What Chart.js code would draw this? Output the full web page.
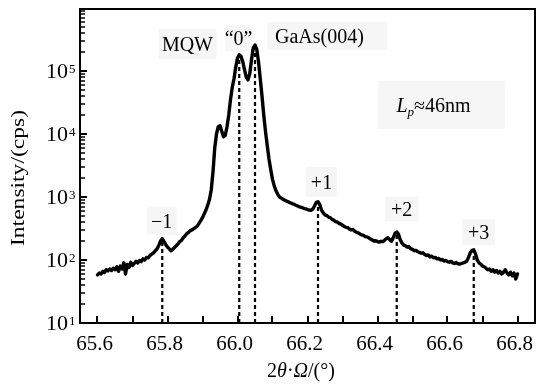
<!DOCTYPE html>
<html><head><meta charset="utf-8">
<script src="https://cdn.jsdelivr.net/npm/chart.js@4/dist/chart.umd.min.js"></script>
<style>html,body{margin:0;padding:0;background:#fff}</style>
</head><body>
<canvas id="c" width="536" height="390"></canvas>
<script>
// XRD 2θ-ω scan: [2θ (deg), intensity (cps)]
const scan = [
[65.600,58],[65.605,62],[65.610,60],[65.615,66],[65.620,63],[65.625,70],[65.630,67],[65.635,72],[65.640,68],[65.645,74],
[65.650,70],[65.655,78],[65.660,66],[65.665,80],[65.670,72],[65.675,90],[65.680,60],[65.685,85],[65.690,76],[65.695,92],
[65.700,82],[65.705,88],[65.710,95],[65.715,90],[65.720,98],[65.725,94],[65.730,104],[65.735,100],[65.740,110],[65.745,108],
[65.750,118],[65.755,124],[65.760,130],[65.765,140],[65.770,150],[65.775,170],[65.780,200],[65.785,218],[65.790,195],[65.795,175],
[65.800,160],[65.805,150],[65.810,140],[65.815,148],[65.820,158],[65.825,168],[65.830,180],[65.835,196],[65.840,205],[65.845,225],
[65.850,240],[65.855,262],[65.860,275],[65.865,292],[65.870,300],[65.875,315],[65.880,328],[65.885,345],[65.890,380],[65.895,420],
[65.900,470],[65.905,540],[65.910,620],[65.915,740],[65.920,920],[65.925,1300],[65.930,2500],[65.935,6000],[65.940,10000],[65.945,13000],
[65.950,13500],[65.955,11000],[65.960,9000],[65.965,9500],[65.970,13000],[65.975,20000],[65.980,35000],[65.985,55000],[65.990,75000],[65.995,115000],
[66.000,160000],[66.005,180000],[66.010,170000],[66.015,140000],[66.020,105000],[66.025,80000],[66.030,72000],[66.035,90000],[66.040,150000],[66.045,230000],
[66.050,258000],[66.055,220000],[66.060,140000],[66.065,75000],[66.070,40000],[66.075,20000],[66.080,11000],[66.085,6500],[66.090,4000],[66.095,2700],
[66.100,1900],[66.105,1500],[66.110,1250],[66.115,1100],[66.120,1000],[66.125,960],[66.130,920],[66.135,890],[66.140,860],[66.145,840],
[66.150,810],[66.155,790],[66.160,770],[66.165,745],[66.170,725],[66.175,705],[66.180,690],[66.185,675],[66.190,660],[66.195,648],
[66.200,632],[66.205,620],[66.210,612],[66.215,640],[66.220,720],[66.225,820],[66.230,840],[66.235,760],[66.240,620],[66.245,560],
[66.250,520],[66.255,505],[66.260,480],[66.265,470],[66.270,440],[66.275,430],[66.280,405],[66.285,400],[66.290,380],[66.295,370],
[66.300,355],[66.305,340],[66.310,330],[66.315,325],[66.320,310],[66.325,300],[66.330,305],[66.335,285],[66.340,275],[66.345,270],
[66.350,258],[66.355,250],[66.360,245],[66.365,235],[66.370,232],[66.375,225],[66.380,215],[66.385,208],[66.390,200],[66.395,202],
[66.400,196],[66.405,192],[66.410,198],[66.415,195],[66.420,205],[66.425,218],[66.430,225],[66.435,210],[66.440,198],[66.445,225],
[66.450,265],[66.455,278],[66.460,255],[66.465,210],[66.470,185],[66.475,172],[66.480,168],[66.485,160],[66.490,162],[66.495,150],
[66.500,148],[66.505,140],[66.510,142],[66.515,135],[66.520,132],[66.525,128],[66.530,130],[66.535,122],[66.540,118],[66.545,120],
[66.550,112],[66.555,115],[66.560,108],[66.565,110],[66.570,104],[66.575,106],[66.580,100],[66.585,102],[66.590,96],[66.595,98],
[66.600,94],[66.605,92],[66.610,95],[66.615,90],[66.620,88],[66.625,91],[66.630,87],[66.635,86],[66.640,88],[66.645,90],
[66.650,92],[66.655,96],[66.660,110],[66.665,130],[66.670,142],[66.675,145],[66.680,125],[66.685,100],[66.690,90],[66.695,86],
[66.700,80],[66.705,78],[66.710,74],[66.715,70],[66.720,72],[66.725,66],[66.730,70],[66.735,64],[66.740,68],[66.745,62],
[66.750,66],[66.755,60],[66.760,64],[66.765,70],[66.770,62],[66.775,58],[66.780,64],[66.785,56],[66.790,62],[66.795,50],
[66.800,60]
];
// satellite / substrate peak markers (dashed drop lines)
const peakPositions = [65.785, 66.005, 66.050, 66.230, 66.455, 66.675];
const peakTops      = [218, 180000, 258000, 840, 278, 145];
// axis ticks
const xTicks = [65.6,65.7,65.8,65.9,66.0,66.1,66.2,66.3,66.4,66.5,66.6,66.7,66.8];
const xTickLabels = ['65.6','65.8','66.0','66.2','66.4','66.6','66.8'];
const xTickLabelValues = [65.6,65.8,66.0,66.2,66.4,66.6,66.8];
const yDecadeExponents = [1,2,3,4,5];
// annotation texts anchored in data coordinates
const annotations = [
  {text:'MQW',        x:65.857, y:2.7e5,  w:58,  h:30},
  {text:'\u201c0\u201d', x:66.003, y:3.3e5, w:26, h:26},
  {text:'GaAs(004)',  x:66.234, y:3.6e5,  w:120, h:28, dx:8},
  {text:'LP',         x:66.560, y:2.9e4,  w:127, h:48, dx:8, lp:true},
  {text:'\u22121',    x:65.783, y:420,    w:30,  h:28},
  {text:'+1',         x:66.240, y:1740,   w:31,  h:30},
  {text:'+2',         x:66.469, y:646,    w:34,  h:25},
  {text:'+3',         x:66.689, y:275,    w:33,  h:26}
];

const SERIF = '"Liberation Serif","Times New Roman",serif';

const datasets = [{
  data: scan.map(p => ({x:p[0], y:p[1]})),
  borderColor:'#000', borderWidth:3.4, pointRadius:0, tension:0, fill:false, order:0,
  borderJoinStyle:'round', borderCapStyle:'round'
}];
peakPositions.forEach((px,i) => {
  datasets.push({
    data:[{x:px, y:10},{x:px, y:peakTops[i]}],
    borderColor:'#000', borderWidth:2.2, borderDash:[4,3], pointRadius:0, fill:false, order:1
  });
});

const decor = {
  id:'decor',
  beforeDatasetsDraw(chart){
    const ctx = chart.ctx, xs = chart.scales.x, ys = chart.scales.y;
    ctx.save();
    annotations.forEach(a => {
      const cx = xs.getPixelForValue(a.x), cy = ys.getPixelForValue(a.y);
      ctx.fillStyle = '#f6f6f6';
      ctx.fillRect(cx + (a.dx||0) - a.w/2, cy - a.h/2, a.w, a.h);
    });
    ctx.restore();
  },
  afterDraw(chart){
    const ctx = chart.ctx, xs = chart.scales.x, ys = chart.scales.y, ca = chart.chartArea;
    ctx.save();
    // annotations text
    ctx.fillStyle = '#000';
    annotations.forEach(a => {
      const cx = xs.getPixelForValue(a.x), cy = ys.getPixelForValue(a.y);
      if (a.lp) {
        ctx.font = 'italic 20px ' + SERIF;
        const wL = ctx.measureText('L').width;
        ctx.font = 'italic 13px ' + SERIF;
        const wp = ctx.measureText('p').width;
        ctx.font = '20px ' + SERIF;
        const wr = ctx.measureText('\u224846nm').width;
        let x0 = cx - (wL + wp + wr)/2;
        const base = cy + 7;
        ctx.textAlign = 'left'; ctx.textBaseline = 'alphabetic';
        ctx.font = 'italic 20px ' + SERIF; ctx.fillText('L', x0, base); x0 += wL;
        ctx.font = 'italic 13px ' + SERIF; ctx.fillText('p', x0, base + 4); x0 += wp;
        ctx.font = '20px ' + SERIF; ctx.fillText('\u224846nm', x0, base);
      } else {
        ctx.font = '20px ' + SERIF;
        ctx.textAlign = 'center'; ctx.textBaseline = 'alphabetic';
        ctx.fillText(a.text, cx, cy + 7);
      }
    });
    // frame
    ctx.strokeStyle = '#000'; ctx.lineWidth = 2;
    ctx.strokeRect(ca.left, ca.top, ca.right - ca.left, ca.bottom - ca.top);
    // x ticks (inward)
    ctx.lineWidth = 2;
    xTicks.forEach(v => {
      const x = Math.round(xs.getPixelForValue(v));
      ctx.beginPath(); ctx.moveTo(x, ca.bottom); ctx.lineTo(x, ca.bottom - 7); ctx.stroke();
    });
    // y ticks (inward), major + minor
    yDecadeExponents.forEach(d => {
      const y = Math.round(ys.getPixelForValue(Math.pow(10,d)));
      ctx.lineWidth = 2;
      ctx.beginPath(); ctx.moveTo(ca.left, y); ctx.lineTo(ca.left + 7, y); ctx.stroke();
      for (let k = 2; k <= 9; k++) {
        const v = k * Math.pow(10,d);
        if (v > ys.max) break;
        const ym = Math.round(ys.getPixelForValue(v));
        ctx.lineWidth = 1.5;
        ctx.beginPath(); ctx.moveTo(ca.left, ym); ctx.lineTo(ca.left + 5, ym); ctx.stroke();
      }
    });
    // x tick labels
    ctx.fillStyle = '#000';
    ctx.font = '21px ' + SERIF;
    ctx.textAlign = 'center'; ctx.textBaseline = 'alphabetic';
    xTickLabelValues.forEach((v,i) => {
      ctx.fillText(xTickLabels[i], xs.getPixelForValue(v) - 3, ca.bottom + 27);
    });
    // y tick labels 10^n
    yDecadeExponents.forEach(d => {
      const y = ys.getPixelForValue(Math.pow(10,d));
      ctx.font = '22px ' + SERIF; ctx.textAlign = 'right';
      ctx.fillText('10', 68, y + 7);
      ctx.font = '13px ' + SERIF; ctx.textAlign = 'left';
      ctx.fillText(String(d), 69, y + 2);
    });
    // x title 2θ·Ω/(°)
    const parts = [['2',''],['\u03b8','italic '],['\u00b7',''],['\u03a9','italic '],['/(\u00b0)','']];
    let tw = 0;
    parts.forEach(p => { ctx.font = p[1] + '20px ' + SERIF; tw += ctx.measureText(p[0]).width; });
    let tx = 301 - tw/2;
    ctx.textAlign = 'left';
    parts.forEach(p => { ctx.font = p[1] + '20px ' + SERIF; ctx.fillText(p[0], tx, 377); tx += ctx.measureText(p[0]).width; });
    // y title
    ctx.save();
    ctx.translate(24, 178);
    ctx.rotate(-Math.PI/2);
    ctx.font = '19px ' + SERIF;
    const yt = 'Intensity/(cps)';
    const m = ctx.measureText(yt).width;
    ctx.scale(136 / m, 1);
    ctx.textAlign = 'center';
    ctx.fillText(yt, 0, 0);
    ctx.restore();
    ctx.restore();
  }
};

new Chart(document.getElementById('c'), {
  type:'line',
  data:{datasets},
  options:{
    responsive:false, animation:false, devicePixelRatio:1,
    layout:{padding:{top:9, right:1, left:0, bottom:0}},
    plugins:{legend:{display:false}, tooltip:{enabled:false}},
    scales:{
      x:{type:'linear', min:65.55, max:66.85, grid:{display:false}, border:{display:false},
         ticks:{display:false}, afterFit(s){ s.height = 67; }},
      y:{type:'logarithmic', min:10, max:9.6e5, grid:{display:false}, border:{display:false},
         ticks:{display:false}, afterFit(s){ s.width = 80; }}
    }
  },
  plugins:[decor]
});
</script>
</body></html>
